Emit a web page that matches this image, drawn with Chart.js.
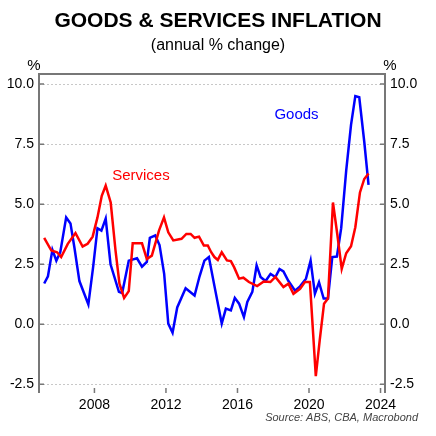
<!DOCTYPE html>
<html>
<head>
<meta charset="utf-8">
<script src="https://cdn.jsdelivr.net/npm/chart.js@4"></script>
<style>
  body { margin: 0; background: #fff; }
  #wrap { width: 436px; height: 436px; position: relative; }
</style>
</head>
<body>
<div id="wrap"><canvas id="chart" width="436" height="436"></canvas></div>
<script>
// values
const goodsYears = [2005.19, 2005.4, 2005.65, 2005.87, 2006.09, 2006.42, 2006.66, 2006.88, 2007.16, 2007.66,
  2007.93, 2008.17, 2008.39, 2008.63, 2008.9, 2009.37, 2009.55, 2009.92, 2010.38, 2010.66, 2010.93, 2011.1,
  2011.4, 2011.64, 2011.9, 2012.13, 2012.37, 2012.63, 2013.1, 2013.6, 2013.88, 2014.15, 2014.4, 2014.71,
  2015.12, 2015.35, 2015.63, 2015.85, 2016.09, 2016.36, 2016.55, 2016.83, 2017.07, 2017.29, 2017.57, 2017.85,
  2018.12, 2018.35, 2018.57, 2018.85, 2019.22, 2019.5, 2019.83, 2020.09, 2020.33, 2020.56, 2020.82, 2021.06,
  2021.3, 2021.56, 2021.8, 2022.08, 2022.35, 2022.59, 2022.81, 2023.09, 2023.33];
const goodsValues = [1.7, 2.0, 3.1, 2.65, 3.0, 4.45, 4.2, 3.2, 1.8, 0.83,
  2.4, 4.0, 3.9, 4.4, 2.5, 1.35, 1.3, 2.65, 2.75, 2.4, 2.6, 3.6,
  3.7, 3.3, 2.1, 0.03, -0.35, 0.7, 1.5, 1.2, 2.0, 2.65, 2.8, 1.6,
  0.03, 0.65, 0.58, 1.1, 0.86, 0.3, 0.93, 1.35, 2.45, 1.97, 1.8, 2.1,
  1.97, 2.3, 2.2, 1.8, 1.4, 1.58, 1.9, 2.65, 1.27, 1.75, 1.07, 1.07,
  2.8, 2.82, 4.0, 6.4, 8.3, 9.5, 9.45, 7.6, 5.8];
const servicesYears = [2005.19, 2005.59, 2005.91, 2006.14, 2006.51, 2006.94, 2007.34, 2007.62, 2007.9, 2008.17,
  2008.41, 2008.63, 2008.91, 2009.18, 2009.4, 2009.66, 2009.92, 2010.14, 2010.66, 2010.93, 2011.21, 2011.61,
  2011.89, 2012.13, 2012.41, 2012.87, 2013.14, 2013.38, 2013.6, 2013.85, 2014.12, 2014.34, 2014.53, 2014.71,
  2014.9, 2015.12, 2015.41, 2015.63, 2015.81, 2016.09, 2016.33, 2016.64, 2017.1, 2017.47, 2017.84, 2018.12,
  2018.57, 2018.85, 2019.13, 2019.5, 2019.77, 2020.05, 2020.38, 2020.6, 2020.84, 2021.06, 2021.34, 2021.58,
  2021.83, 2022.08, 2022.35, 2022.59, 2022.85, 2023.09, 2023.33];
const servicesValues = [3.6, 3.07, 3.0, 2.8, 3.35, 3.8, 3.24, 3.35, 3.65, 4.45,
  5.35, 5.77, 5.07, 3.07, 1.69, 1.1, 1.38, 3.37, 3.37, 2.72, 2.86, 3.9,
  4.45, 3.83, 3.49, 3.56, 3.76, 3.76, 3.6, 3.65, 3.28, 3.28, 3.0, 2.8,
  2.68, 3.0, 2.66, 2.63, 2.38, 1.9, 1.94, 1.76, 1.59, 1.78, 1.76, 1.97,
  1.55, 1.69, 1.27, 1.48, 1.76, 1.76, -2.16, -0.66, 0.86, 1.07, 5.07, 3.76,
  2.31, 2.96, 3.25, 4.04, 5.49, 6.05, 6.28];
const yearTicks = [2008, 2012, 2016, 2020, 2024];
const pctTicks = [-2.5, 0, 2.5, 5, 7.5, 10];

const toPoints = (xs, ys) => xs.map((x, i) => ({ x: x, y: ys[i] }));
const FONT = "Arial, 'Liberation Sans', sans-serif";

const decor = {
  id: "decor",
  afterDraw(chart) {
    const { ctx, chartArea: a, scales } = chart;
    const x = scales.x, y = scales.y;
    ctx.save();
    // box
    ctx.strokeStyle = "#777";
    ctx.lineWidth = 2;
    ctx.beginPath();
    ctx.moveTo(a.left, a.bottom); ctx.lineTo(a.left, a.top); ctx.lineTo(a.right, a.top); ctx.lineTo(a.right, a.bottom);
    ctx.stroke();
    // inward tick marks
    ctx.lineWidth = 1.5;
    ctx.beginPath();
    pctTicks.forEach(v => {
      const py = y.getPixelForValue(v);
      ctx.moveTo(a.left, py); ctx.lineTo(a.left + 5, py);
      ctx.moveTo(a.right, py); ctx.lineTo(a.right - 5, py);
    });
    yearTicks.forEach(v => {
      const px = x.getPixelForValue(v);
      ctx.moveTo(px, a.bottom); ctx.lineTo(px, a.bottom - 5);
    });
    ctx.stroke();
    // x labels
    ctx.fillStyle = "#000";
    ctx.font = "14px " + FONT;
    ctx.textAlign = "center";
    ctx.textBaseline = "middle";
    yearTicks.forEach(v => ctx.fillText(String(v), x.getPixelForValue(v), a.bottom + 12));
    // % units
    ctx.font = "15px " + FONT;
    ctx.fillText("%", 34, 66);
    ctx.fillText("%", 390, 66);
    // titles
    ctx.font = "bold 21px " + FONT;
    ctx.fillText("GOODS & SERVICES INFLATION", 218, 21);
    ctx.font = "16px " + FONT;
    ctx.fillText("(annual % change)", 218, 46);
    // series labels
    ctx.font = "15px " + FONT;
    ctx.fillStyle = "#ff0000";
    ctx.fillText("Services", x.getPixelForValue(2010.6), y.getPixelForValue(6.2));
    ctx.fillStyle = "#0000ff";
    ctx.fillText("Goods", x.getPixelForValue(2019.3), y.getPixelForValue(8.7));
    // source
    ctx.fillStyle = "#444";
    ctx.font = "italic 11px " + FONT;
    ctx.textAlign = "right";
    ctx.fillText("Source: ABS, CBA, Macrobond", 418, 418);
    ctx.restore();
  }
};

const yAxis = (pos, width) => ({
  type: "linear",
  position: pos,
  min: -2.86,
  max: 10.42,
  afterBuildTicks: s => { s.ticks = pctTicks.map(v => ({ value: v })); },
  afterFit: s => { s.width = width; },
  border: { display: false },
  grid: {
    display: pos === "left",
    drawTicks: false,
    color: "#c8c8c8",
    lineWidth: 1
  },
  ticks: {
    color: "#000",
    font: { size: 14, family: FONT },
    padding: 5,
    callback: v => v.toFixed(1)
  }
});

new Chart(document.getElementById("chart"), {
  type: "line",
  data: {
    datasets: [
      { label: "Services", data: toPoints(servicesYears, servicesValues), borderColor: "#ff0000", borderWidth: 2.5, pointRadius: 0, tension: 0 },
      { label: "Goods", data: toPoints(goodsYears, goodsValues), borderColor: "#0000ff", borderWidth: 2.5, pointRadius: 0, tension: 0 }
    ]
  },
  options: {
    responsive: false,
    animation: false,
    layout: { padding: { top: 74, left: 0, right: 0, bottom: 0 } },
    plugins: { legend: { display: false }, tooltip: { enabled: false } },
    scales: {
      x: {
        type: "linear",
        min: 2004.9,
        max: 2024.25,
        afterFit: s => { s.height = 43; },
        border: { display: false },
        grid: { display: false },
        ticks: { display: false }
      },
      y: Object.assign(yAxis("left", 39), {}),
      y2: yAxis("right", 51)
    }
  },
  plugins: [decor]
});
// dotted gridlines
Chart.defaults.borderDash = [];
</script>
<script>
// make horizontal grid dotted
const c = Chart.getChart("chart");
c.options.scales.y.grid.borderDash = [2, 2];
c.options.scales.y.border = { display: false, dash: [2, 2] };
c.update();
</script>
</body>
</html>
